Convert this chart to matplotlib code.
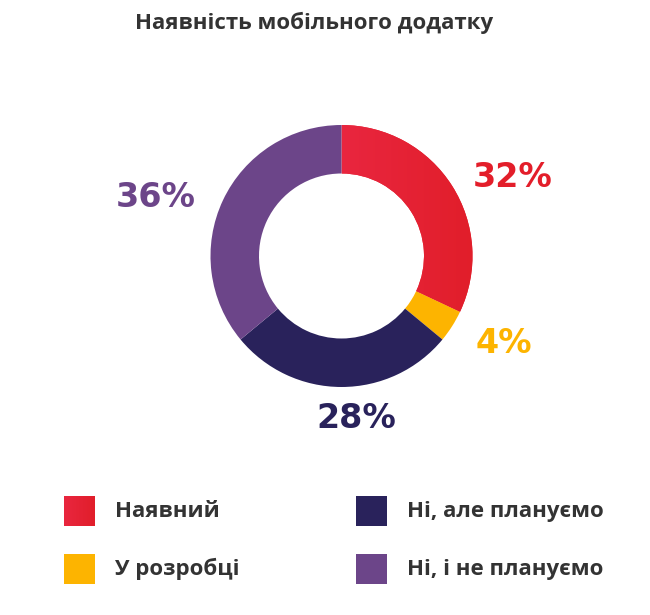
import matplotlib
matplotlib.use("Agg")
import matplotlib.pyplot as plt
import numpy as np
from matplotlib.patches import Rectangle
from matplotlib.colors import LinearSegmentedColormap

title = "Наявність мобільного додатку"
categories = ["Наявний", "У розробці", "Ні, але плануємо", "Ні, і не плануємо"]
values = [32, 4, 28, 36]
labels = ["32%", "4%", "28%", "36%"]
colors = ["#E42232", "#FDB400", "#29225B", "#6C4589"]

W, H = 650, 615
fig = plt.figure(figsize=(W / 100, H / 100), dpi=100)
fig.patch.set_facecolor("white")

def fx(x):
    return x / W

def fy(y):
    return 1 - y / H

# donut
cx, cy, R = 341.5, 256, 131
ax = fig.add_axes([fx(cx - R), fy(cy + R), 2 * R / W, 2 * R / H])
wedges, _ = ax.pie(values, colors=colors, startangle=90, counterclock=False,
                   radius=1, wedgeprops=dict(width=1 - 82.5 / 131, linewidth=0))
ax.set_aspect("equal")
ax.axis("off")

# gradient on red wedge
grad = LinearSegmentedColormap.from_list("g", ["#E9263F", "#E11E2A"])
g = np.linspace(0, 1, 256).reshape(1, -1)
im = ax.imshow(g, cmap=grad, extent=[0, 1, -1, 1], aspect="auto", zorder=3)
im.set_clip_path(wedges[0])
ax.set_xlim(-1, 1)
ax.set_ylim(-1, 1)

# percentage labels (baseline positions)
label_pos = [(513, 187), (504, 353), (356, 428), (156, 207)]
for lab, (px, py), c in zip(labels, label_pos, colors):
    tc = "#E31E2A" if c == colors[0] else c
    fig.text(fx(px), fy(py), lab, color=tc, fontsize=24, fontfamily="DejaVu Sans",
             fontweight="bold", ha="center", va="baseline")

# title
fig.text(fx(314), fy(29), title, color="#333333", fontsize=16,
         fontfamily="Open Sans", fontweight="bold", ha="center", va="baseline")

# legend
leg_pos = [(64, 496), (64, 554), (356, 496), (356, 554)]
for i, (cat, (px, py)) in enumerate(zip(categories, leg_pos)):
    if i == 0:
        lax = fig.add_axes([fx(px), fy(py + 30), 31 / W, 30 / H])
        lax.imshow(g, cmap=grad, extent=[0, 1, 0, 1], aspect="auto")
        lax.axis("off")
    else:
        fig.add_artist(Rectangle((fx(px), fy(py + 30)), 31 / W, 30 / H,
                                 transform=fig.transFigure, facecolor=colors[i],
                                 edgecolor="none"))
    fig.text(fx(px + 51), fy(py + 21), cat, color="#333333", fontsize=16,
             fontfamily="Open Sans", fontweight="bold", ha="left", va="baseline")

fig.savefig("out.png", dpi=100, facecolor="white")
